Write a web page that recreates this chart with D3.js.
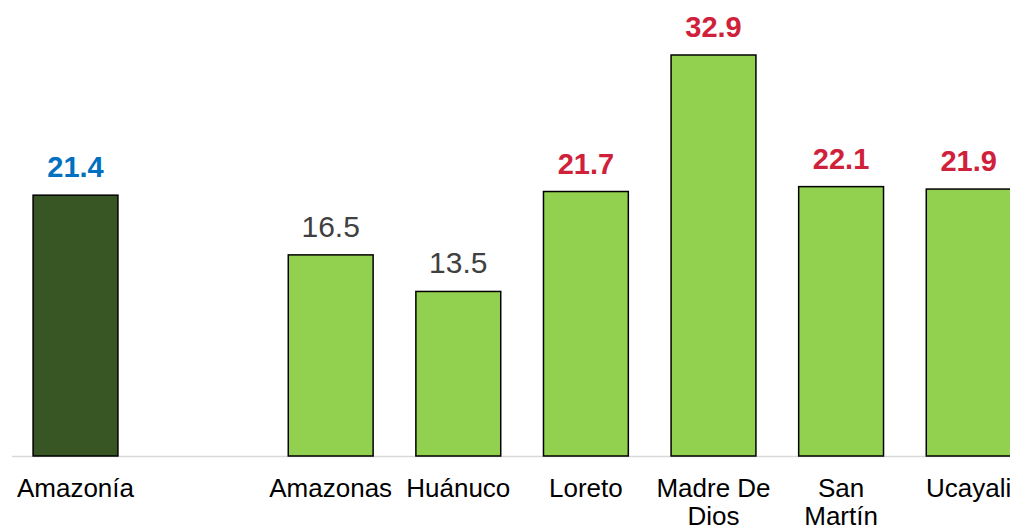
<!DOCTYPE html>
<html>
<head>
<meta charset="utf-8">
<script src="https://cdn.jsdelivr.net/npm/d3@7"></script>
<style>
  body { margin: 0; background: #fff; overflow: hidden; }
  text { font-family: "Liberation Sans", Arial, sans-serif; }
</style>
</head>
<body>
<svg id="chart"></svg>
<script>
var width = 1010;
var height = 526;

// data
var categories = ["Amazonía", "", "Amazonas", "Huánuco", "Loreto", "Madre De Dios", "San Martín", "Ucayali"];
var values = [21.4, null, 16.5, 13.5, 21.7, 32.9, 22.1, 21.9];
var labelLines = [["Amazonía"], [], ["Amazonas"], ["Huánuco"], ["Loreto"], ["Madre De", "Dios"], ["San", "Martín"], ["Ucayali"]];
var labelStyle = ["blue", null, "gray", "gray", "red", "red", "red", "red"];

var svg = d3.select("#chart")
  .attr("width", width)
  .attr("height", height);

var xScale = d3.scaleBand()
  .domain(categories.map(function(d, i) { return i; }))
  .range([11.7, 1032.5])
  .paddingInner(0.335)
  .paddingOuter(0.1675);

var yScale = d3.scaleLinear()
  .domain([0, 32.9])
  .range([456, 55]);

var data = categories.map(function(c, i) {
  return { i: i, name: c, value: values[i], lines: labelLines[i], style: labelStyle[i] };
}).filter(function(d) { return d.value !== null; });

// baseline
svg.append("line")
  .attr("x1", 12).attr("x2", width)
  .attr("y1", yScale(0) + 0.5).attr("y2", yScale(0) + 0.5)
  .attr("stroke", "#d9d9d9")
  .attr("stroke-width", 1.5);

// bars
svg.selectAll("rect.bar")
  .data(data)
  .enter()
  .append("rect")
  .attr("class", "bar")
  .attr("x", function(d) { return xScale(d.i); })
  .attr("y", function(d) { return yScale(d.value); })
  .attr("width", xScale.bandwidth())
  .attr("height", function(d) { return yScale(0) - yScale(d.value); })
  .attr("fill", function(d) { return d.i === 0 ? "#375623" : "#92d050"; })
  .attr("stroke", "#000")
  .attr("stroke-width", 1.5);

// value labels
var colors = { blue: "#0070c0", red: "#d0213b", gray: "#404040" };
svg.selectAll(".bar-label")
  .data(data)
  .enter()
  .append("text")
  .attr("class", "bar-label")
  .attr("x", function(d) { return xScale(d.i) + xScale.bandwidth() / 2; })
  .attr("y", function(d) { return yScale(d.value) - 18; })
  .attr("text-anchor", "middle")
  .attr("font-size", function(d) { return d.style === "gray" ? "30px" : "29px"; })
  .attr("font-weight", function(d) { return d.style === "gray" ? "normal" : "bold"; })
  .attr("fill", function(d) { return colors[d.style]; })
  .text(function(d) { return d.value.toFixed(1); });

// category labels
var cat = svg.selectAll(".cat-label")
  .data(data)
  .enter()
  .append("text")
  .attr("class", "cat-label")
  .attr("text-anchor", "middle")
  .attr("font-size", "26px")
  .attr("fill", "#000");

cat.selectAll("tspan")
  .data(function(d) {
    return d.lines.map(function(l, k) { return { t: l, k: k, x: xScale(d.i) + xScale.bandwidth() / 2 }; });
  })
  .enter()
  .append("tspan")
  .attr("x", function(d) { return d.x; })
  .attr("y", function(d) { return 497 + d.k * 28; })
  .text(function(d) { return d.t; });
</script>
</body>
</html>
